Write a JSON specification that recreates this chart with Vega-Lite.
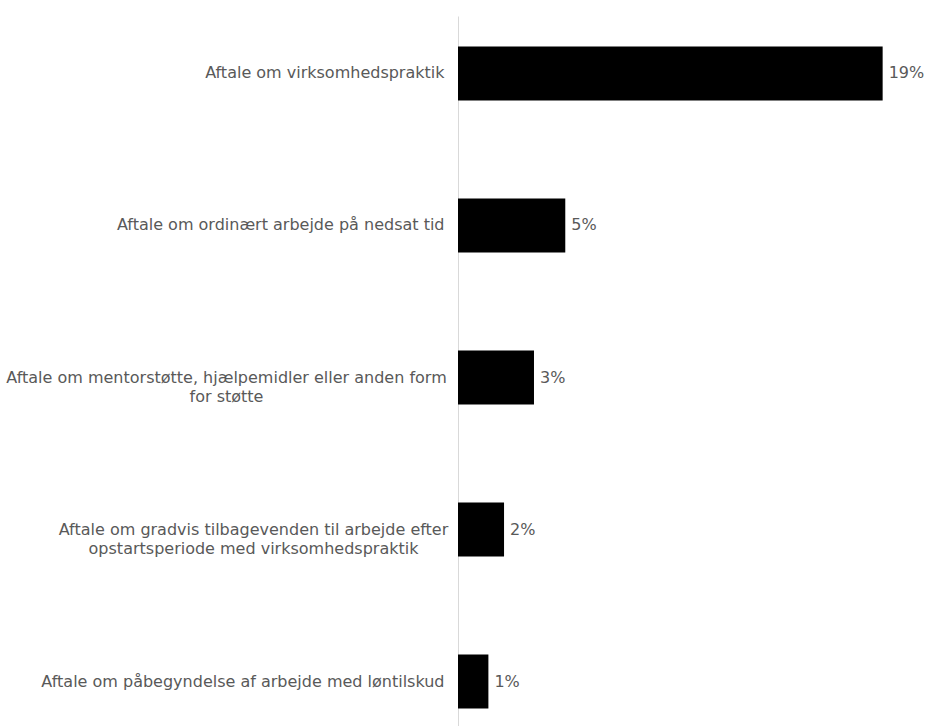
{
  "$schema": "https://vega.github.io/schema/vega-lite/v6.json",
  "autosize": {"type": "none"},
  "padding": {"left": 458, "top": 16, "right": 20, "bottom": 0},
  "width": 447,
  "height": 723,
  "background": "white",
  "config": {"view": {"stroke": null}, "font": "DejaVu Sans"},
  "data": {"values": [
    {"category": "Aftale om virksomhedspraktik", "value": 0.19},
    {"category": "Aftale om ordinært arbejde på nedsat tid", "value": 0.048},
    {"category": "Aftale om mentorstøtte, hjælpemidler eller anden form|for støtte", "value": 0.034},
    {"category": "Aftale om gradvis tilbagevenden til arbejde efter|opstartsperiode med virksomhedspraktik", "value": 0.0206},
    {"category": "Aftale om påbegyndelse af arbejde med løntilskud", "value": 0.0136}
  ]},
  "encoding": {
    "y": {
      "field": "category", "type": "nominal", "sort": null, "title": null,
      "scale": {"paddingInner": 0.645, "paddingOuter": 0.2},
      "axis": {
        "domainColor": "#d9d9d9", "domainWidth": 1, "ticks": false, "grid": false,
        "labelExpr": "split(datum.label, '|')",
        "labelFont": "DejaVu Sans", "labelFontSize": 16, "labelColor": "#595959",
        "labelLimit": 500, "labelLineHeight": 19,
        "labelAlign": {"condition": {"test": "indexof(datum.value, '|') >= 0", "value": "center"}, "value": "right"},
        "labelPadding": {"condition": [
          {"test": "indexof(datum.value, 'mentor') >= 0", "value": 232},
          {"test": "indexof(datum.value, 'gradvis') >= 0", "value": 205}
        ], "value": 14}
      }
    },
    "x": {"field": "value", "type": "quantitative", "axis": null, "scale": {"domain": [0, 0.2], "nice": false}}
  },
  "layer": [
    {"mark": {"type": "bar", "color": "#000000"}},
    {"mark": {"type": "text", "align": "left", "dx": 6, "font": "DejaVu Sans", "fontSize": 16, "color": "#595959"},
     "encoding": {"text": {"field": "value", "type": "quantitative", "format": ".0%"}}}
  ]
}
